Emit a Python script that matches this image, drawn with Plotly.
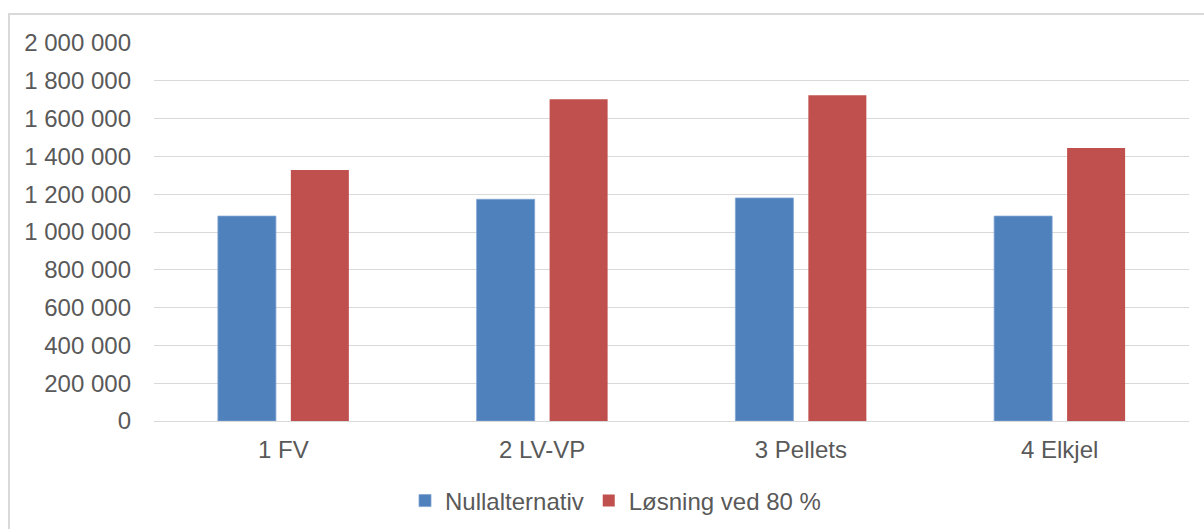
import plotly.graph_objects as go

# Kategorier og verdier (kr)
categories = ["1 FV", "2 LV-VP", "3 Pellets", "4 Elkjel"]
nullalternativ = [1084000, 1173000, 1180000, 1084000]
losning_80 = [1328000, 1703000, 1724000, 1444000]
series_names = ["Nullalternativ", "Løsning ved 80 %"]
y_ticks = [0, 200000, 400000, 600000, 800000, 1000000,
           1200000, 1400000, 1600000, 1800000, 2000000]

W, H = 1204, 529
ML, MR, MT, MB = 154, 15, 43, 108
PW, PH = W - ML - MR, H - MT - MB

BLUE = "#4F81BD"
RED = "#C0504D"
TEXT = "#595959"
GRID = "#D9D9D9"
FONT = "Liberation Sans, Arial, sans-serif"
FS = 24

fig = go.Figure()
fig.add_trace(go.Bar(x=categories, y=nullalternativ, name=series_names[0],
                     marker=dict(color=BLUE, line=dict(color="#7FA3D1", width=0.8))))
fig.add_trace(go.Bar(x=categories, y=losning_80, name=series_names[1],
                     marker=dict(color=RED, line=dict(color=RED, width=0))))


def px_x(p):
    return (p - ML) / PW


def px_y(p):
    return (H - MB - p) / PH


fig.update_layout(
    width=W, height=H,
    margin=dict(l=ML, r=MR, t=MT, b=MB, pad=0, autoexpand=False),
    paper_bgcolor="white", plot_bgcolor="white",
    separators=", ",
    font=dict(family=FONT, size=FS, color=TEXT),
    barmode="group", bargap=0.436, bargroupgap=0.205,
    showlegend=True,
    legend=dict(orientation="h", x=px_x(405), xanchor="left",
                y=px_y(501), yanchor="middle",
                font=dict(family=FONT, size=FS, color=TEXT),
                itemwidth=30, traceorder="normal", bgcolor="rgba(0,0,0,0)"),
    xaxis=dict(showgrid=False, showline=False, ticks="", zeroline=False,
               automargin=False,
               tickfont=dict(size=FS, color=TEXT), ticklabelstandoff=12),
    yaxis=dict(range=[0, 2000000], tickvals=y_ticks, tickformat=",d",
               automargin=False,
               showgrid=True, gridcolor=GRID, gridwidth=1.4,
               zeroline=True, zerolinecolor=GRID, zerolinewidth=1.4,
               showline=False, ticks="", ticklabelstandoff=22,
               tickfont=dict(size=FS, color=TEXT)),
    shapes=[dict(type="rect", xref="paper", yref="paper",
                 x0=px_x(9), x1=px_x(1230), y0=px_y(560), y1=px_y(14),
                 line=dict(color=GRID, width=2), fillcolor="rgba(0,0,0,0)",
                 layer="below")],
)

fig.write_html("out.html")
